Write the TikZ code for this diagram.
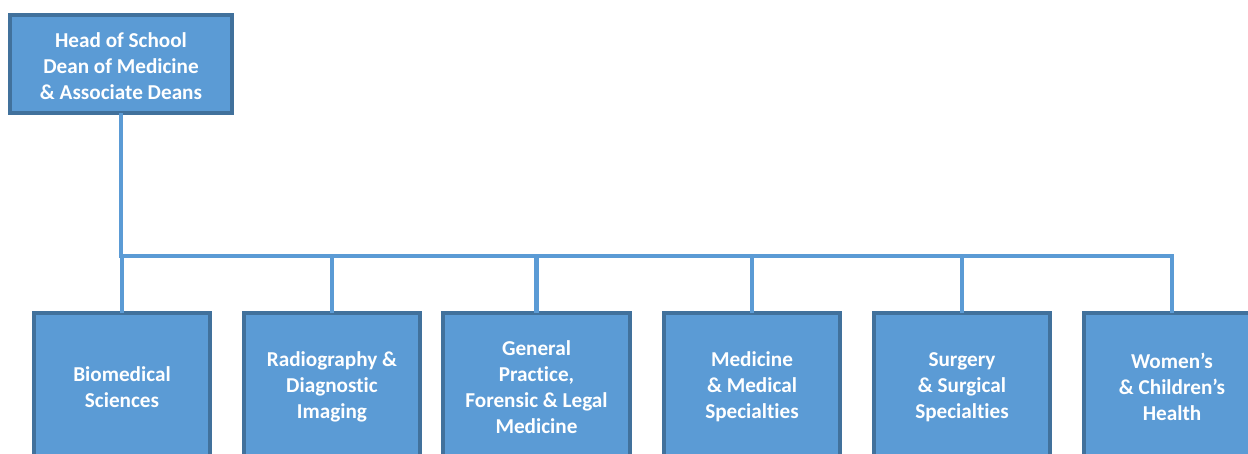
\documentclass[tikz,border=0pt]{standalone}
\usepackage{fontspec}
\setmainfont{Carlito}[Ligatures=NoCommon]
\definecolor{boxfill}{HTML}{5B9BD5}
\definecolor{boxedge}{HTML}{41719C}
\definecolor{linkblue}{HTML}{5B9BD5}
\begin{document}
\begin{tikzpicture}[x=1pt,y=-1pt,
  unit/.style={draw=boxedge, line width=3.5pt, fill=boxfill,
    inner sep=0pt, outer sep=0pt},
  head/.style={unit, minimum width=222pt, minimum height=98pt},
  dept/.style={unit, minimum width=176pt, minimum height=146pt},
  wide/.style={unit, minimum width=187pt, minimum height=146pt},
  caption/.style={text=white, font=\fontsize{21.2}{26}\selectfont\bfseries,
    align=center, inner sep=0pt},
  conn/.style={draw=linkblue, line width=4.6pt}]
\useasboundingbox (0,0) rectangle (1248,454);
\clip (0,0) rectangle (1248,454);

% head of school
\node[head] (top) at (121,64) {};
\node[caption] (topt) at (121,66.5) {Head of School\\Dean of Medicine\\\& Associate Deans};

% departments
\node[dept] (d1) at (122,386) {};
\node[dept] (d2) at (332,386) {};
\node[wide] (d3) at (536.5,386) {};
\node[dept] (d4) at (752,386) {};
\node[dept] (d5) at (962,386) {};
\node[dept] (d6) at (1172,386) {};
\node[caption] (d1t) at (122,387) {Biomedical\\Sciences};
\node[caption] (d2t) at (332,387) {Radiography \&\\Diagnostic\\Imaging};
\node[caption] (d3t) at (536.5,387) {General\\Practice,\\Forensic \& Legal\\Medicine};
\node[caption] (d4t) at (752,387) {Medicine\\\& Medical\\Specialties};
\node[caption] (d5t) at (962,387) {Surgery\\\& Surgical\\Specialties};
\node[caption] (d6t) at (1172,387) {Women’s\\\& Children’s\\Health};

% bus line
\coordinate (bus) at (0,256);
\draw[conn] (top.south) -- (top.south |- bus);
\draw[conn, line cap=rect] (top.south |- bus) -- (d6.north |- bus);
\foreach \d in {d1,d2,d3,d4,d5,d6}
  \draw[conn] (\d.north |- bus) -- (\d.north);
\end{tikzpicture}
\end{document}
